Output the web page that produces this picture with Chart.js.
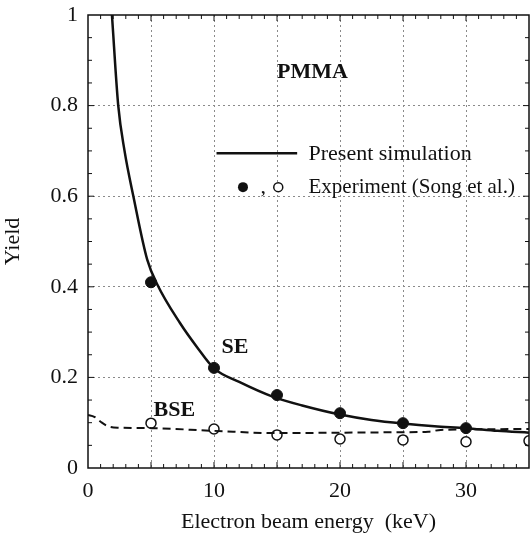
<!DOCTYPE html>
<html>
<head>
<meta charset="utf-8">
<script src="https://cdn.jsdelivr.net/npm/chart.js@4/dist/chart.umd.min.js"></script>
<style>
  body { margin: 0; background: #fff; }
  #wrap { width: 530px; height: 535px; }
</style>
</head>
<body>
<div id="wrap"><canvas id="yieldChart" width="530" height="535"></canvas></div>
<script>
// simulation curves
const seSimX = [1.9, 2.4, 2.9, 3.6, 4.7, 5.5, 7.3, 8.7, 10, 12, 14.7, 17, 20, 22.5, 25, 27.5, 30, 32.5, 35];
const seSimY = [1.0, 0.8, 0.7, 0.6, 0.46, 0.405, 0.32, 0.265, 0.22, 0.19, 0.157, 0.138, 0.118, 0.106, 0.098, 0.092, 0.088, 0.082, 0.078];

const bseSimX = [0, 0.5, 1, 1.6, 2.5, 5, 10, 15, 20, 25, 27, 28, 35];
const bseSimY = [0.117, 0.113, 0.102, 0.092, 0.089, 0.088, 0.082, 0.077, 0.078, 0.079, 0.08, 0.084, 0.086];

// experiment (Song et al.)
const seExpX = [5, 10, 15, 20, 25, 30];
const seExpY = [0.41, 0.221, 0.161, 0.121, 0.099, 0.088];
const bseExpX = [5, 10, 15, 20, 25, 30, 35];
const bseExpY = [0.099, 0.086, 0.073, 0.064, 0.062, 0.058, 0.06];

const xLabels = [0, 10, 20, 30];
const yLabels = [0, 0.2, 0.4, 0.6, 0.8, 1];

const FONT = "'Liberation Serif', 'DejaVu Serif', serif";

function pts(xs, ys) {
    return xs.map((x, i) => ({ x: x, y: ys[i] }));
}

// frame, inward minor ticks and the text labels in the plot
const decorations = {
    id: 'decorations',
    afterDatasetsDraw(chart) {
        const ctx = chart.ctx;
        const a = chart.chartArea;
        const xs = chart.scales.x;
        const ys = chart.scales.y;
        ctx.save();
        ctx.strokeStyle = '#111';
        ctx.lineWidth = 1.5;
        ctx.strokeRect(a.left, a.top, a.right - a.left, a.bottom - a.top);

        ctx.lineWidth = 1;
        for (let v = 1; v < 35; v++) {
            let px = xs.getPixelForValue(v);
            let len = v % 5 === 0 ? 6 : 4;
            ctx.beginPath();
            ctx.moveTo(px, a.bottom); ctx.lineTo(px, a.bottom - len);
            ctx.moveTo(px, a.top); ctx.lineTo(px, a.top + len);
            ctx.stroke();
        }
        for (let i = 1; i < 20; i++) {
            let py = ys.getPixelForValue(i * 0.05);
            let len = i % 4 === 0 ? 6 : 4;
            ctx.beginPath();
            ctx.moveTo(a.left, py); ctx.lineTo(a.left + len, py);
            ctx.moveTo(a.right, py); ctx.lineTo(a.right - len, py);
            ctx.stroke();
        }

        ctx.fillStyle = '#111';
        ctx.textBaseline = 'alphabetic';
        ctx.textAlign = 'left';
        ctx.font = 'bold 22px ' + FONT;
        ctx.fillText('PMMA', xs.getPixelForValue(15.0), ys.getPixelForValue(0.861));
        ctx.fillText('SE', xs.getPixelForValue(10.6), ys.getPixelForValue(0.254));
        ctx.fillText('BSE', xs.getPixelForValue(5.2), ys.getPixelForValue(0.115));

        // legend
        ctx.font = '22px ' + FONT;
        ctx.lineWidth = 2.5;
        ctx.beginPath();
        ctx.moveTo(xs.getPixelForValue(10.2), ys.getPixelForValue(0.695));
        ctx.lineTo(xs.getPixelForValue(16.6), ys.getPixelForValue(0.695));
        ctx.stroke();
        ctx.fillText('Present simulation', xs.getPixelForValue(17.5), ys.getPixelForValue(0.68));

        ctx.beginPath();
        ctx.arc(xs.getPixelForValue(12.3), ys.getPixelForValue(0.62), 5, 0, Math.PI * 2);
        ctx.fill();
        ctx.fillText(',', xs.getPixelForValue(13.7), ys.getPixelForValue(0.607));
        ctx.lineWidth = 1.5;
        ctx.beginPath();
        ctx.arc(xs.getPixelForValue(15.1), ys.getPixelForValue(0.62), 4.5, 0, Math.PI * 2);
        ctx.fillStyle = '#fff';
        ctx.fill();
        ctx.stroke();
        ctx.fillStyle = '#111';
        ctx.font = '21px ' + FONT;
        ctx.fillText('Experiment (Song et al.)', xs.getPixelForValue(17.5), ys.getPixelForValue(0.607));
        ctx.restore();
    }
};

const gridColor = (c) => {
    const v = c.tick ? c.tick.value : null;
    return (v === null || Math.abs(v) < 1e-9 || v >= c.scale.max - 1e-9) ? 'rgba(0,0,0,0)' : '#8a8a8a';
};

const data = {
    datasets: [
        {
            label: 'SE simulation',
            data: pts(seSimX, seSimY),
            showLine: true,
            borderColor: '#111',
            borderWidth: 2.5,
            pointRadius: 0,
            cubicInterpolationMode: 'monotone',
            fill: false
        },
        {
            label: 'BSE simulation',
            data: pts(bseSimX, bseSimY),
            showLine: true,
            borderColor: '#111',
            borderWidth: 2,
            borderDash: [8, 5],
            pointRadius: 0,
            cubicInterpolationMode: 'monotone',
            fill: false
        },
        {
            label: 'SE experiment',
            data: pts(seExpX, seExpY),
            showLine: false,
            pointRadius: 5.5,
            pointBackgroundColor: '#111',
            pointBorderColor: '#111'
        },
        {
            label: 'BSE experiment',
            data: pts(bseExpX, bseExpY),
            showLine: false,
            pointRadius: 5,
            pointBorderWidth: 1.5,
            pointBackgroundColor: '#fff',
            pointBorderColor: '#111'
        }
    ]
};

const options = {
    responsive: false,
    animation: false,
    layout: { autoPadding: false, padding: { top: 15, right: 1, left: 0, bottom: 0 } },
    plugins: { legend: { display: false }, tooltip: { enabled: false } },
    scales: {
        x: {
            type: 'linear',
            min: 0,
            max: 35,
            afterFit(s) { s.height = 67; s.paddingLeft = 0; s.paddingRight = 0; },
            border: { display: false, dash: [2, 3] },
            grid: { color: gridColor, lineWidth: 1, drawTicks: false },
            ticks: {
                stepSize: 5,
                padding: 10,
                color: '#111',
                font: { family: FONT, size: 22 },
                maxRotation: 0,
                autoSkip: false,
                callback: (v) => xLabels.includes(v) ? String(v) : ''
            },
            title: {
                display: true,
                text: 'Electron beam energy  (keV)',
                color: '#111',
                font: { family: FONT, size: 22 },
                padding: { top: 0, bottom: 0 }
            }
        },
        y: {
            min: 0,
            max: 1,
            afterFit(s) { s.width = 88; s.paddingTop = 0; s.paddingBottom = 0; },
            border: { display: false, dash: [2, 3] },
            grid: { color: gridColor, lineWidth: 1, drawTicks: false },
            ticks: {
                stepSize: 0.2,
                padding: 10,
                color: '#111',
                font: { family: FONT, size: 22 },
                callback: (v) => {
                    const hit = yLabels.find(l => Math.abs(l - v) < 1e-6);
                    if (hit === undefined) return '';
                    return (hit === 0 || hit === 1) ? String(hit) : hit.toFixed(1);
                }
            },
            title: {
                display: true,
                text: 'Yield',
                color: '#111',
                font: { family: FONT, size: 22 },
                padding: { top: 0, bottom: 4 }
            }
        }
    }
};

new Chart(document.getElementById('yieldChart').getContext('2d'), {
    type: 'scatter',
    data: data,
    options: options,
    plugins: [decorations]
});
</script>
</body>
</html>
